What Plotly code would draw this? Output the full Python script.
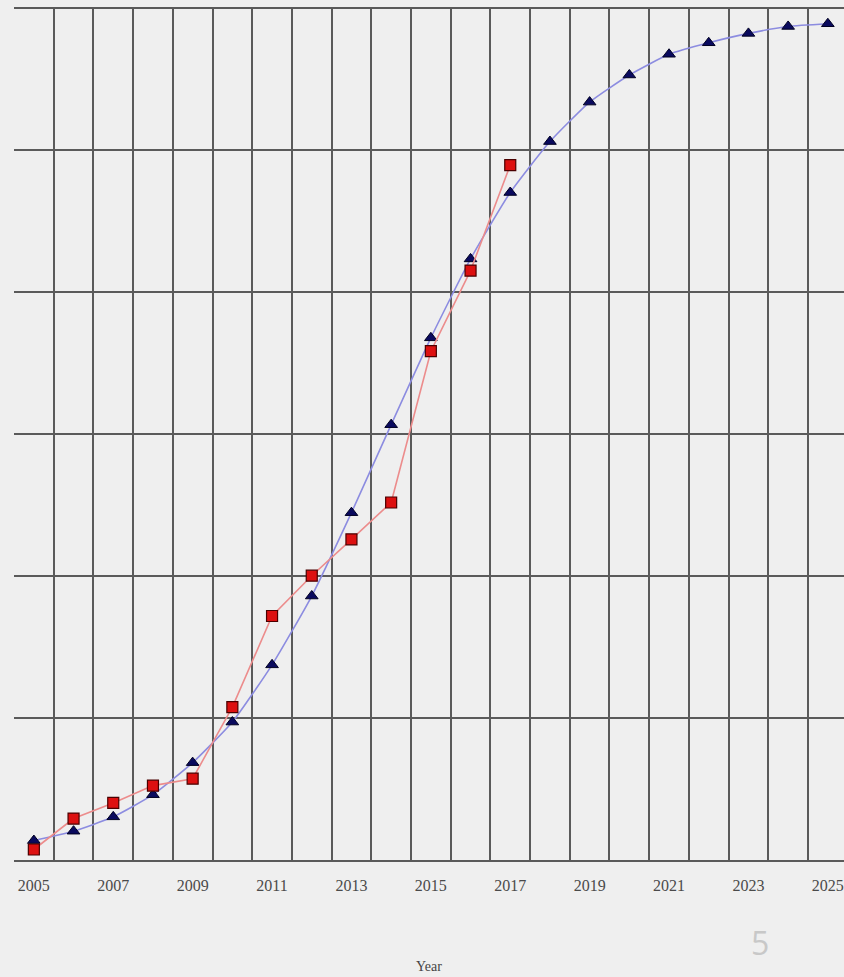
import plotly.graph_objects as go

years_fit = list(range(2005, 2026))
fit_values = [1.37, 2.03, 3.04, 4.6, 6.86, 9.72, 13.75, 18.6, 24.47, 30.67, 36.79,
              42.35, 47.03, 50.62, 53.4, 55.31, 56.77, 57.58, 58.24, 58.73, 58.92]

years_actual = list(range(2005, 2018))
actual_values = [0.74, 2.92, 4.02, 5.24, 5.73, 10.77, 17.19, 20.03, 22.59, 25.19,
                 35.85, 41.53, 48.96]

tick_years = list(range(2005, 2026, 2))
grid_years = [y - 0.5 for y in range(2005, 2027)]

fig = go.Figure()
fig.add_trace(go.Scatter(
    x=years_fit, y=fit_values, mode="lines+markers",
    line=dict(color="#8c8ce0", width=1.6, shape="spline", smoothing=0.5),
    marker=dict(symbol="triangle-up", size=11, color="#0a0a5e",
                line=dict(color="#000022", width=1)),
    showlegend=False,
))
fig.add_trace(go.Scatter(
    x=years_actual, y=actual_values, mode="lines+markers",
    line=dict(color="#ec8c8c", width=1.6),
    marker=dict(symbol="square", size=11, color="#dd1010",
                line=dict(color="#4a0000", width=1.2)),
    showlegend=False,
))

fig.update_layout(
    width=844, height=977,
    margin=dict(l=14, r=0, t=7, b=116.5),
    paper_bgcolor="#efefef", plot_bgcolor="#efefef",
    xaxis=dict(
        range=[2004.5, 2025.407],
        tickmode="array", tickvals=tick_years,
        ticktext=[str(y) for y in tick_years],
        showgrid=False, zeroline=False,
        showline=True, linecolor="#5a5a5a", linewidth=1.6,
        ticks="", ticklabelstandoff=10,
        tickfont=dict(family="Liberation Serif", size=16, color="#4a4a4a"),
        minor=dict(tickmode="array", tickvals=grid_years, showgrid=True,
                   gridcolor="#5a5a5a", gridwidth=1.5, ticks=""),
        title=dict(text="Year", standoff=68,
                   font=dict(family="Liberation Serif", size=14, color="#444444")),
    ),
    yaxis=dict(
        range=[0, 60.1], dtick=10, tick0=0,
        showgrid=True, gridcolor="#5a5a5a", gridwidth=1.5,
        zeroline=False, showticklabels=False, ticks="",
    ),
    annotations=[dict(
        text="5", xref="paper", yref="paper", x=(760 - 14) / 830, y=(977 - 943 - 116.5) / 853.5,
        showarrow=False, xanchor="center", yanchor="middle",
        font=dict(family="Open Sans", size=32, color="#c8c8c8"),
    )],
)

fig.write_html(
    "out.html",
    config={"displayModeBar": False},
    post_script="document.body.style.margin='0';document.body.style.background='#efefef';document.body.style.overflow='hidden';",
)
